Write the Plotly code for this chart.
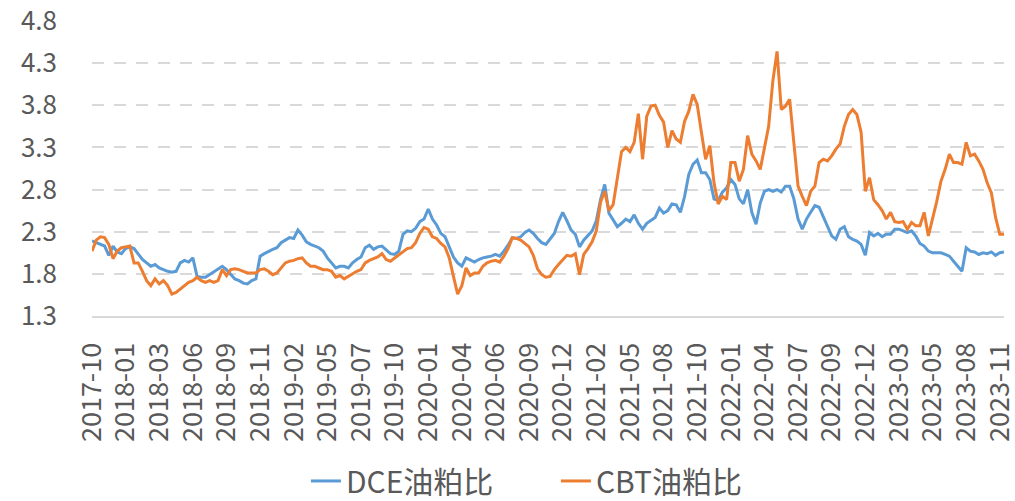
import plotly.graph_objects as go

# Tick labels of the category axis (one every 8 samples)
tick_labels = ["2017-10", "2018-01", "2018-03", "2018-06", "2018-09", "2018-11",
               "2019-02", "2019-05", "2019-07", "2019-10", "2020-01", "2020-04",
               "2020-06", "2020-09", "2020-12", "2021-02", "2021-05", "2021-08",
               "2021-10", "2022-01", "2022-04", "2022-07", "2022-09", "2022-12",
               "2023-03", "2023-05", "2023-08", "2023-11"]
samples_per_label = 8

# DCE oil/meal ratio
dce = [
    2.19, 2.17, 2.15, 2.13, 2.02, 2.13, 2.06, 2.04, 2.10, 2.12,
    2.10, 2.03, 1.97, 1.93, 1.89, 1.91, 1.87, 1.85, 1.83, 1.82,
    1.83, 1.93, 1.96, 1.94, 1.99, 1.77, 1.76, 1.76, 1.79, 1.82,
    1.85, 1.89, 1.85, 1.79, 1.74, 1.72, 1.69, 1.68, 1.72, 1.74,
    2.01, 2.04, 2.07, 2.09, 2.11, 2.17, 2.20, 2.23, 2.22, 2.32,
    2.26, 2.18, 2.15, 2.13, 2.11, 2.07, 1.99, 1.93, 1.87, 1.89,
    1.89, 1.87, 1.93, 1.97, 2.00, 2.11, 2.14, 2.09, 2.12, 2.13,
    2.08, 2.04, 2.03, 2.07, 2.27, 2.31, 2.30, 2.34, 2.42, 2.45,
    2.57, 2.45, 2.38, 2.28, 2.24, 2.11, 2.00, 1.93, 1.89, 1.99,
    1.96, 1.94, 1.97, 1.99, 2.00, 2.01, 2.03, 2.01, 2.07, 2.14,
    2.23, 2.22, 2.24, 2.29, 2.32, 2.28, 2.22, 2.17, 2.15, 2.22,
    2.28, 2.42, 2.53, 2.43, 2.32, 2.27, 2.12, 2.20, 2.25, 2.31,
    2.43, 2.68, 2.86, 2.52, 2.44, 2.36, 2.40, 2.45, 2.42, 2.50,
    2.40, 2.33, 2.40, 2.44, 2.47, 2.58, 2.52, 2.55, 2.63, 2.62,
    2.53, 2.72, 2.98, 3.10, 3.15, 3.00, 3.00, 2.92, 2.69, 2.67,
    2.77, 2.82, 2.92, 2.86, 2.69, 2.63, 2.80, 2.53, 2.39, 2.64,
    2.78, 2.80, 2.78, 2.80, 2.77, 2.84, 2.84, 2.69, 2.45, 2.33,
    2.45, 2.53, 2.61, 2.59, 2.47, 2.37, 2.25, 2.21, 2.33, 2.36,
    2.24, 2.21, 2.19, 2.15, 2.02, 2.29, 2.25, 2.28, 2.24, 2.27,
    2.27, 2.33, 2.33, 2.31, 2.29, 2.31, 2.25, 2.16, 2.13, 2.07,
    2.05, 2.05, 2.05, 2.03, 2.01, 1.95, 1.89, 1.83, 2.11, 2.07,
    2.06, 2.03, 2.05, 2.04, 2.06, 2.02, 2.05, 2.06,
]

# CBT oil/meal ratio
cbt = [
    2.07, 2.20, 2.24, 2.23, 2.15, 1.98, 2.07, 2.11, 2.12, 2.13,
    1.93, 1.93, 1.83, 1.72, 1.66, 1.74, 1.68, 1.72, 1.66, 1.56,
    1.58, 1.62, 1.66, 1.70, 1.72, 1.76, 1.72, 1.70, 1.72, 1.70,
    1.72, 1.85, 1.78, 1.85, 1.86, 1.85, 1.83, 1.81, 1.81, 1.81,
    1.85, 1.86, 1.83, 1.79, 1.81, 1.87, 1.93, 1.95, 1.96, 1.98,
    1.99, 1.93, 1.89, 1.89, 1.87, 1.85, 1.85, 1.83, 1.76, 1.78,
    1.74, 1.77, 1.81, 1.83, 1.85, 1.93, 1.96, 1.98, 2.00, 2.04,
    1.97, 1.95, 1.99, 2.02, 2.06, 2.10, 2.11, 2.17, 2.28, 2.35,
    2.33, 2.24, 2.22, 2.16, 2.12, 1.99, 1.77, 1.56, 1.66, 1.87,
    1.78, 1.81, 1.81, 1.89, 1.93, 1.95, 1.96, 1.94, 2.01, 2.10,
    2.23, 2.22, 2.20, 2.16, 2.12, 2.02, 1.86, 1.79, 1.76, 1.77,
    1.85, 1.91, 1.97, 2.02, 2.01, 2.04, 1.79, 2.03, 2.10, 2.18,
    2.31, 2.65, 2.78, 2.55, 2.62, 2.95, 3.25, 3.30, 3.25, 3.36,
    3.70, 3.16, 3.67, 3.79, 3.80, 3.68, 3.60, 3.30, 3.50, 3.40,
    3.36, 3.61, 3.73, 3.93, 3.81, 3.48, 3.16, 3.32, 2.88, 2.63,
    2.72, 2.68, 3.12, 3.12, 2.90, 3.04, 3.44, 3.22, 3.14, 3.04,
    3.28, 3.55, 4.09, 4.44, 3.75, 3.79, 3.87, 3.36, 2.84, 2.72,
    2.61, 2.78, 2.84, 3.12, 3.16, 3.14, 3.20, 3.28, 3.34, 3.55,
    3.69, 3.75, 3.69, 3.48, 2.78, 2.94, 2.68, 2.62, 2.55, 2.45,
    2.53, 2.42, 2.41, 2.42, 2.33, 2.41, 2.37, 2.37, 2.53, 2.25,
    2.45, 2.66, 2.90, 3.04, 3.22, 3.12, 3.12, 3.10, 3.36, 3.20,
    3.22, 3.14, 3.04, 2.88, 2.76, 2.47, 2.27, 2.27,
]

x_dce = list(range(len(dce)))
x_cbt = list(range(len(cbt)))
tick_vals = [k * samples_per_label for k in range(len(tick_labels))]

FONT = "Noto Sans CJK SC"
TXT = "#595959"

fig = go.Figure()
fig.add_trace(go.Scatter(x=x_dce, y=dce, mode="lines", name="DCE油粕比",
                         line=dict(color="#5B9BD5", width=3)))
fig.add_trace(go.Scatter(x=x_cbt, y=cbt, mode="lines", name="CBT油粕比",
                         line=dict(color="#ED7D31", width=3)))

fig.update_layout(
    width=1015, height=501,
    margin=dict(l=92, r=11, t=21, b=185, autoexpand=False),
    paper_bgcolor="white", plot_bgcolor="white",
    font=dict(family=FONT, color=TXT),
    showlegend=True,
    legend=dict(orientation="h", xref="container", yref="container",
                x=0.3014, xanchor="left", y=0.04, yanchor="middle",
                entrywidth=205, entrywidthmode="pixels",
                font=dict(size=30, family=FONT, color=TXT), bgcolor="rgba(0,0,0,0)"),
    xaxis=dict(range=[0, max(len(dce), len(cbt)) - 1], tickmode="array",
               tickvals=tick_vals, ticktext=tick_labels, tickangle=-90,
               tickfont=dict(size=27, family=FONT, color=TXT),
               showgrid=False, zeroline=False, showline=True,
               linecolor="#D9D9D9", linewidth=2, ticks="", ticklabelstandoff=14,
               ticklabeloverflow="allow", automargin=False),
    yaxis=dict(range=[1.3, 4.8], dtick=0.5, tick0=1.3, tickformat=".1f",
               tickfont=dict(size=26, family=FONT, color=TXT),
               showgrid=True, gridcolor="#D9D9D9", gridwidth=1.5, griddash="12px,10px",
               zeroline=False, showline=False, ticks="", ticklabelstandoff=34,
               automargin=False),
)

fig.write_html("out.html", config={"displayModeBar": False},
               post_script="document.body.style.margin='0';document.body.style.overflow='hidden';")
